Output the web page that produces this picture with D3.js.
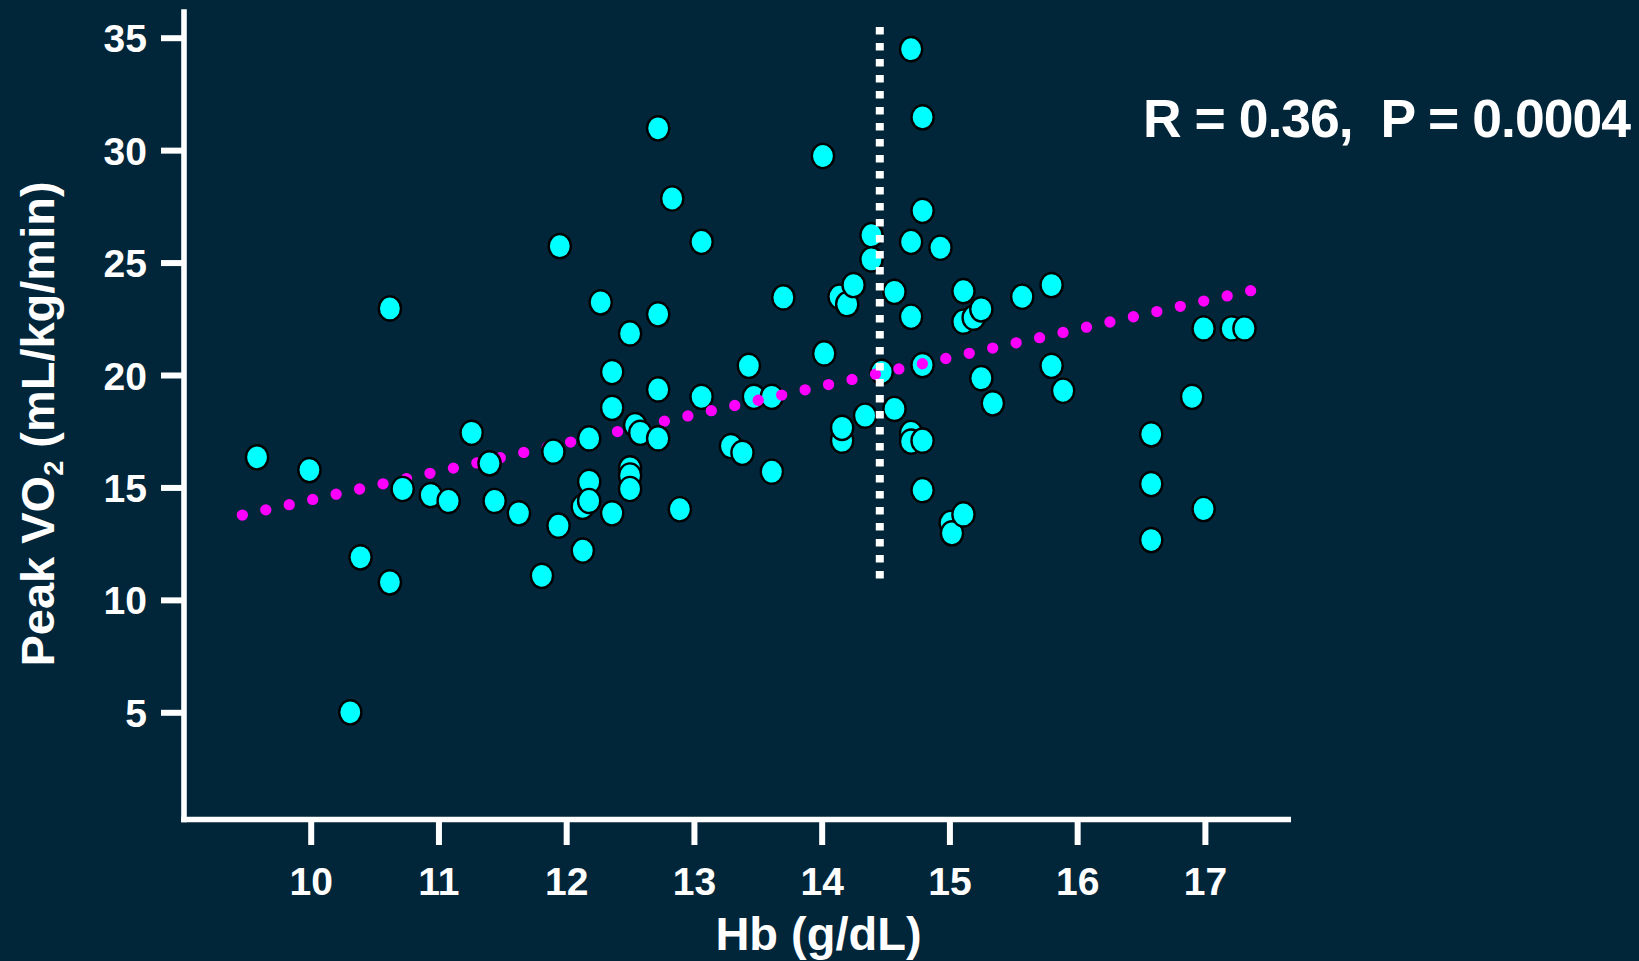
<!DOCTYPE html>
<html><head><meta charset="utf-8">
<script src="https://cdn.jsdelivr.net/npm/d3@7"></script>
<style>
html,body{margin:0;padding:0;background:#01263a;}
svg{display:block;}
text{font-family:"Liberation Sans",Arial,sans-serif;font-weight:bold;fill:#fff;}
</style></head><body>
<svg id="chart" width="1639" height="961"></svg>
<script>
// ---- data ----
const hb = [9.58,9.99,10.39,10.62,10.62,10.31,10.72,10.94,11.08,11.26,11.40,11.44,11.63,11.81,11.90,11.94,11.95,
  12.13,12.13,12.18,12.18,12.18,12.27,12.36,12.36,12.36,12.50,12.50,12.50,12.50,12.54,12.58,12.72,12.72,12.72,12.72,
  12.83,12.89,13.06,13.06,13.29,13.38,13.43,13.47,13.61,13.61,13.70,14.01,14.02,14.14,14.16,14.16,14.20,14.25,14.34,
  14.39,14.39,14.47,14.57,14.57,14.70,14.70,14.70,14.70,14.70,14.79,14.79,14.79,14.79,14.79,14.93,15.01,15.02,15.11,
  15.11,15.11,15.19,15.25,15.25,15.34,15.57,15.80,15.80,15.89,16.58,16.58,16.58,16.90,16.99,16.99,17.21,17.31];
const vo2 = [16.34,15.77,11.89,10.78,22.96,5.00,14.93,14.66,14.40,17.43,16.07,14.40,13.85,11.07,16.59,13.30,25.73,
  14.14,12.19,17.18,15.25,14.40,23.23,20.13,18.54,13.85,21.85,15.85,15.53,14.93,17.77,17.43,30.97,22.70,19.36,17.18,
  27.85,14.03,25.92,19.03,16.84,16.54,20.41,19.03,19.03,15.70,23.45,29.74,20.96,23.48,17.08,17.65,23.15,24.00,18.19,
  26.22,25.14,20.14,23.70,18.49,34.49,25.92,22.59,17.42,17.04,31.46,27.30,20.44,17.08,14.88,25.66,13.42,12.96,23.73,
  22.37,13.80,22.55,22.92,19.86,18.74,23.48,24.00,20.41,19.30,17.36,15.15,12.66,19.03,22.07,14.04,22.07,22.07];
const xTicks = [10,11,12,13,14,15,16,17];
const yTicks = [5,10,15,20,25,30,35];
const trendHb = [9.465, 17.358];
const trendVo2 = [13.77, 23.75];
const cutoffHb = 14.455;
const cutoffVo2 = [35.48, 10.95];
const statsLabel = "R = 0.36,  P = 0.0004";
const xTitle = "Hb (g/dL)";
const yTitleMain = "Peak VO", yTitleSub = "2", yTitleRest = " (mL/kg/min)";

// ---- layout ----
const svg = d3.select("#chart");
svg.append("rect").attr("width",1639).attr("height",961).attr("fill","#01263a");
const x = d3.scaleLinear().domain([10,17]).range([310.7,1204.9]);
const y = d3.scaleLinear().domain([5,35]).range([712.3,37.7]);
const axisX = 184, axisY = 819.5;

const points = hb.map((h,i)=>({h, v: vo2[i]}));
const back = points.filter(d=>d.h>=13), front = points.filter(d=>d.h<13);

function drawPts(data){
  svg.append("g").selectAll("ellipse").data(data).join("ellipse")
    .attr("cx", d=>x(d.h)).attr("cy", d=>y(d.v))
    .attr("rx", 11.1).attr("ry", 12.1)
    .attr("fill","#00ffff").attr("stroke","#000").attr("stroke-width",2.4);
}
drawPts(back);

// trend line (dotted)
const trendPts = trendHb.map((h,i)=>[x(h), y(trendVo2[i])]);
const tp = svg.append("path").attr("d", d3.line()(trendPts))
  .attr("fill","none").attr("stroke","#ff00ff").attr("stroke-width",11.3)
  .attr("stroke-linecap","round");
const tl = tp.node().getTotalLength();
tp.attr("stroke-dasharray", `0 ${tl/43}`);

drawPts(front);

// cutoff dotted vertical line
svg.append("path")
  .attr("d", d3.line()(cutoffVo2.map(v=>[x(cutoffHb), y(v)])))
  .attr("fill","none").attr("stroke","#fff").attr("stroke-width",8)
  .attr("stroke-dasharray","7.7 8.3");

// axes lines
svg.append("line").attr("x1",axisX).attr("x2",axisX).attr("y1",9.3).attr("y2",axisY+2.8)
  .attr("stroke","#fff").attr("stroke-width",5.6);
svg.append("line").attr("x1",axisX-2.8).attr("x2",1291).attr("y1",axisY).attr("y2",axisY)
  .attr("stroke","#fff").attr("stroke-width",5.6);

const gy = svg.append("g").attr("transform",`translate(${axisX},0)`)
  .call(d3.axisLeft(y).tickValues(yTicks).tickFormat(d3.format("d")).tickSize(23).tickPadding(14));
gy.select(".domain").remove();
gy.selectAll(".tick line").attr("stroke","#fff").attr("stroke-width",6);
gy.selectAll(".tick text").attr("fill","#fff").style("font-size","39px").attr("dy","0.36em");

const gx = svg.append("g").attr("transform",`translate(0,${axisY})`)
  .call(d3.axisBottom(x).tickValues(xTicks).tickFormat(d3.format("d")).tickSize(25.5));
gx.select(".domain").remove();
gx.selectAll(".tick line").attr("stroke","#fff").attr("stroke-width",6);
gx.selectAll(".tick text").attr("fill","#fff").style("font-size","39px").attr("y",75).attr("dy",null);
gy.attr("font-family",null); gx.attr("font-family",null);
gy.attr("font-size",null); gx.attr("font-size",null);

// titles
svg.append("text").attr("x",818.5).attr("y",950).attr("text-anchor","middle")
  .style("font-size","47px").text(xTitle);
const yt = svg.append("text").attr("transform","translate(53.6,424) rotate(-90)")
  .attr("text-anchor","middle").style("font-size","47px");
yt.append("tspan").text(yTitleMain);
yt.append("tspan").style("font-size","27px").attr("dy",9.4).text(yTitleSub);
yt.append("tspan").attr("dy",-9.4).text(yTitleRest);

svg.append("text").attr("x",1143).attr("y",137).style("font-size","53.5px")
  .attr("textLength",488).attr("lengthAdjust","spacing")
  .attr("xml:space","preserve").style("white-space","pre").text(statsLabel);
</script>
</body></html>
